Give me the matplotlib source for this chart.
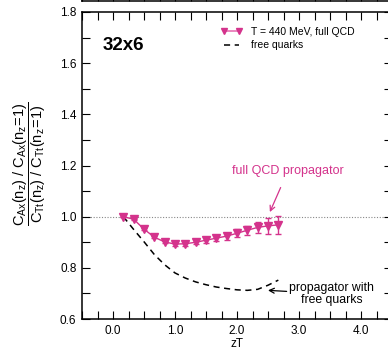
import numpy as np
import matplotlib
matplotlib.use('Agg')
import matplotlib.pyplot as plt
from matplotlib.ticker import MultipleLocator, NullFormatter

plt.rcParams['font.family'] = ['Liberation Sans', 'DejaVu Sans']
plt.rcParams['mathtext.fontset'] = 'custom'
plt.rcParams['mathtext.rm'] = 'Liberation Sans'
plt.rcParams['mathtext.it'] = 'Liberation Sans:italic'

magenta = '#d4338c'
pink = '#e872b4'

# full QCD, T = 440 MeV (zT = n_z / 6)
n_z = [1, 2, 3, 4, 5, 6, 7, 8, 9, 10, 11, 12, 13, 14, 15, 16]
ratio_qcd = [1.000, 0.990, 0.951, 0.920, 0.901, 0.893, 0.894, 0.900, 0.908, 0.916,
             0.924, 0.935, 0.947, 0.958, 0.964, 0.968]
err_qcd = [0.000, 0.002, 0.003, 0.004, 0.005, 0.006, 0.007, 0.008, 0.010, 0.012,
           0.014, 0.016, 0.018, 0.022, 0.030, 0.036]
# free quarks
ratio_free = [1.000, 0.950, 0.902, 0.852, 0.812, 0.780, 0.760, 0.745, 0.734, 0.725,
              0.719, 0.714, 0.712, 0.716, 0.732, 0.752]

zT = np.array(n_z) / 6.0

fig = plt.figure(figsize=(3.88, 3.49), dpi=100)
ax = fig.add_axes([82/388, 30/349, 310/388, 307/349])

# bit of the panel above
ax_top = fig.add_axes([82/388, 348/349, 310/388, 0.5])
ax_top.set_xlim(-0.5, 4.5)
ax_top.xaxis.set_major_locator(MultipleLocator(0.25))
ax_top.tick_params(direction='in', length=6, width=0.8, labelbottom=False, labelleft=False, left=False)
for s in ax_top.spines.values():
    s.set_linewidth(1.1)

ax.axhline(1.0, color='#888888', lw=0.8, ls=(0, (1, 1.5)), zorder=1)

ax.plot(zT, ratio_free, color='black', lw=1.1, ls=(0, (4, 3)), label='free quarks', zorder=2)
ax.errorbar(zT, ratio_qcd, yerr=err_qcd, color=magenta, marker='v', ms=5.8, lw=1.0,
            elinewidth=1.0, capsize=2.5, capthick=1.0, zorder=3)
# legend handle
ax.plot([], [], color=pink, marker='v', mfc=magenta, mec=magenta, ms=5, lw=1.2,
        label='T = 440 MeV, full QCD')

h, l = ax.get_legend_handles_labels()
ax.legend([h[1], h[0]], [l[1], l[0]], loc='upper left', bbox_to_anchor=(0.448, 0.952),
          frameon=False, fontsize=7.5, numpoints=2, handlelength=2.0, handletextpad=0.85,
          borderpad=0, borderaxespad=0, labelspacing=0.35)

ax.text(-0.17, 1.67, '32x6', fontsize=13.5, fontweight='bold', va='center', ha='left')

ax.annotate('full QCD propagator', xy=(2.53, 1.018), xytext=(2.82, 1.178),
            color=magenta, fontsize=9, ha='center', va='center',
            arrowprops=dict(arrowstyle='->', color=magenta, lw=0.9, shrinkA=6, shrinkB=0))
ax.annotate('propagator with\nfree quarks', xy=(2.5, 0.712), xytext=(3.53, 0.698),
            fontsize=8.8, ha='center', va='center', linespacing=0.95,
            arrowprops=dict(arrowstyle='->', color='black', lw=0.9, shrinkA=35, shrinkB=0))

ax.set_xlim(-0.5, 4.5)
ax.set_ylim(0.6, 1.8)
ax.set_xticks([0, 1, 2, 3, 4])
ax.set_xticklabels(['0.0', '1.0', '2.0', '3.0', '4.0'])
ax.xaxis.set_minor_locator(MultipleLocator(0.25))
ax.yaxis.set_major_locator(MultipleLocator(0.2))
ax.yaxis.set_minor_locator(MultipleLocator(0.1))
ax.yaxis.set_major_formatter(plt.FormatStrFormatter('%.1f'))
ax.tick_params(which='both', direction='in', length=6, width=0.8, top=True, right=True,
               labelsize=8.5, pad=4)
for s in ax.spines.values():
    s.set_linewidth(1.1)

ax.set_xlabel('zT', fontsize=8.5, labelpad=1)
fig.text(30/388, 1 - 164/349,
         r'$\dfrac{\mathrm{C_{Ax}(n_z)\ /\ C_{Ax}(n_z\!=\!1)}}{\mathrm{C_{Tt}(n_z)\ /\ C_{Tt}(n_z\!=\!1)}}$',
         rotation=90, fontsize=10.5, ha='center', va='center')

fig.savefig('out.png', dpi=100)
